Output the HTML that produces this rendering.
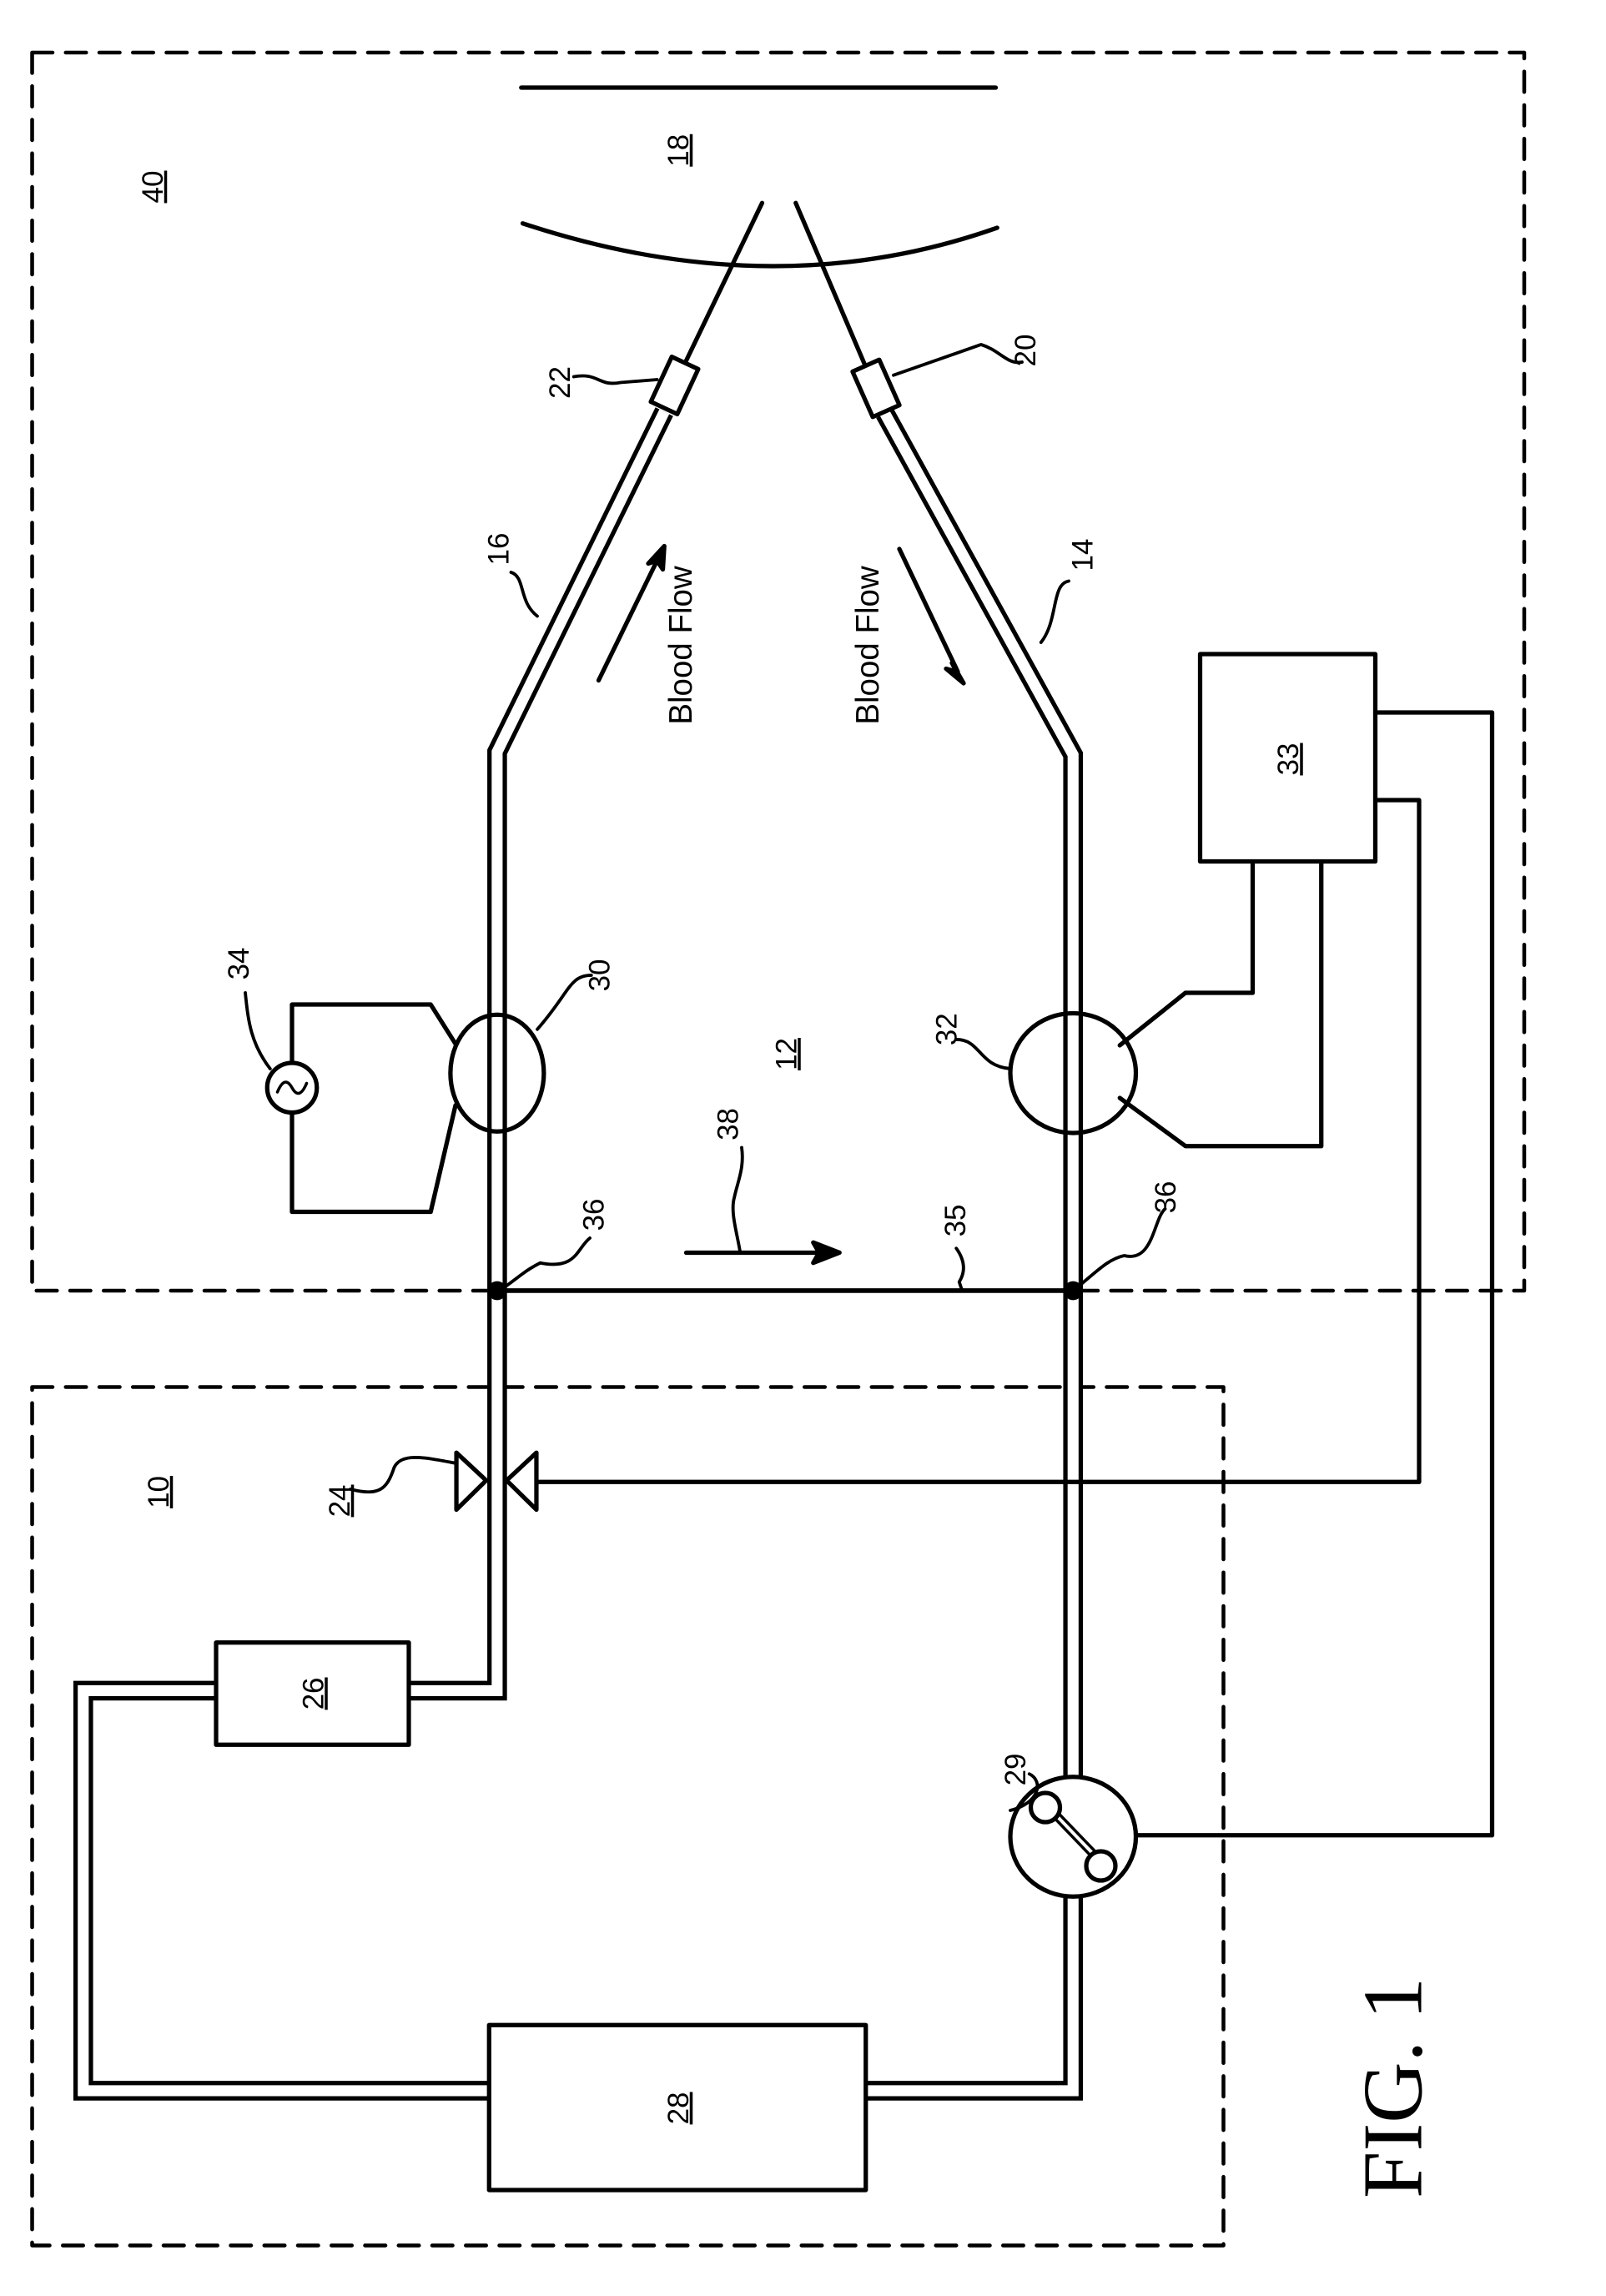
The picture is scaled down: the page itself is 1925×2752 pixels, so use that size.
<!DOCTYPE html>
<html><head><meta charset="utf-8"><style>
html,body{margin:0;padding:0;background:#fff;}
svg{display:block;}
text{font-family:"Liberation Sans","DejaVu Sans",sans-serif;fill:#000;}
</style></head><body>
<svg width="1925" height="2752" viewBox="0 0 1100 1572.6" xmlns="http://www.w3.org/2000/svg">
<g fill="none" stroke="#000" stroke-width="3" stroke-linecap="round" stroke-linejoin="round">
<rect x="22" y="36" width="1022" height="848" stroke-dasharray="14 9" stroke-width="2.6"/>
<rect x="22" y="950" width="816" height="588" stroke-dasharray="14 9" stroke-width="2.6"/>
<line x1="357" y1="60" x2="682" y2="60"/>
<path d="M358,153 Q530,210 683,156"/>
<line x1="470" y1="247" x2="522" y2="139"/>
<line x1="592" y1="249" x2="545" y2="139"/>
<g stroke-linecap="butt" stroke-linejoin="miter">
<path d="M455,282 L340.5,515 L340.5,1158 L280,1158" stroke-width="13.5"/>
<path d="M148,1158 L57,1158 L57,1432 L335,1432" stroke-width="13.5"/>
<path d="M593,1432 L735,1432 L735,1300" stroke-width="13.5"/>
<path d="M735,1218 L735,517 L606,283" stroke-width="13.5"/>
<path d="M455,282 L340.5,515 L340.5,1158 L281,1158" stroke="#fff" stroke-width="7.5"/>
<path d="M147,1158 L57,1158 L57,1432 L336,1432" stroke="#fff" stroke-width="7.5"/>
<path d="M592,1432 L735,1432 L735,1299" stroke="#fff" stroke-width="7.5"/>
<path d="M735,1219 L735,517 L606,283" stroke="#fff" stroke-width="7.5"/>
</g>
<rect x="-10" y="-17" width="20" height="34" transform="translate(462,264) rotate(25)" fill="#fff"/>
<rect x="-10" y="-17" width="20" height="34" transform="translate(600,266) rotate(-24)" fill="#fff"/>
<rect x="148" y="1125" width="132" height="70" fill="#fff"/>
<rect x="335" y="1387" width="258" height="113" fill="#fff"/>
<rect x="822" y="448" width="120" height="142" fill="#fff"/>
<polyline points="942,488 1022,488 1022,1257 778,1257"/>
<polyline points="942,548 972,548 972,1015 368,1015"/>
<polyline points="858,590 858,680 812,680 767,716"/>
<polyline points="905,590 905,785 812,785 767,752"/>
<ellipse cx="340.5" cy="735" rx="32" ry="40" fill="none"/>
<ellipse cx="735" cy="735" rx="43" ry="41" fill="none"/>
<polyline points="312,715 295,688 200,688 200,728"/>
<polyline points="312,757 295,830 200,830 200,762"/>
<circle cx="200" cy="745" r="17" fill="#fff"/>
<path d="M190,748 Q195,736 200,745 Q205,754 210,742" stroke-width="2"/>
<ellipse cx="735" cy="1258" rx="43" ry="41" fill="#fff"/>
<circle cx="716" cy="1238" r="10"/>
<circle cx="754" cy="1278" r="10"/>
<line x1="723" y1="1246" x2="747" y2="1271" stroke-width="2"/>
<line x1="726" y1="1243" x2="750" y2="1268" stroke-width="2"/>
<polygon points="312.6,995 312.6,1034 333,1014" fill="#fff"/>
<polygon points="367.4,995 367.4,1034 347,1014" fill="#fff"/>
<line x1="340.5" y1="884" x2="735" y2="884" stroke-width="3.2"/>
<circle cx="340.5" cy="884" r="5" fill="#000"/>
<circle cx="735" cy="884" r="5" fill="#000"/>
<line x1="470" y1="858" x2="565" y2="858" stroke-width="3"/>
<polygon points="575,858 557,851 561,858 557,865" fill="#000"/>
<line x1="410" y1="466" x2="451" y2="382" stroke-width="3"/>
<polygon points="455,374 444,386 450,384 454,390" fill="#000"/>
<line x1="616" y1="376" x2="656" y2="460" stroke-width="3"/>
<polygon points="660,468 652,454 655,460 648,458" fill="#000"/>
<g stroke-width="2.2">
<path d="M393,258 C410,255 410,265 425,262 L450,260"/>
<path d="M700,248 C690,250 685,240 672,236 L612,257"/>
<path d="M350,392 C360,395 355,412 368,422"/>
<path d="M732,398 C720,400 725,425 713,440"/>
<path d="M168,680 C170,700 172,715 185,732"/>
<path d="M405,668 C390,668 390,680 368,705"/>
<path d="M655,712 C672,712 670,730 692,732"/>
<path d="M404,848 C395,855 395,870 370,865 C360,870 355,875 345,882"/>
<path d="M798,828 C790,835 790,865 770,860 C760,862 752,870 740,880"/>
<path d="M508,786 C510,800 505,810 503,820 C500,830 505,845 507,858"/>
<path d="M655,855 C660,862 662,870 657,878 L659,884"/>
<path d="M240,1020 C260,1025 265,1020 270,1005 C275,995 290,998 311,1002"/>
<path d="M705,1215 C715,1220 712,1235 692,1240"/>
</g>
</g>
<g font-size="20" text-anchor="middle">
<text transform="translate(106,128) rotate(-90)" dominant-baseline="middle" text-decoration="underline">40</text>
<text transform="translate(466,103) rotate(-90)" dominant-baseline="middle" text-decoration="underline">18</text>
<text transform="translate(385,262) rotate(-90)" dominant-baseline="middle">22</text>
<text transform="translate(704,240) rotate(-90)" dominant-baseline="middle">20</text>
<text transform="translate(343,376) rotate(-90)" dominant-baseline="middle">16</text>
<text transform="translate(743,380) rotate(-90)" dominant-baseline="middle">14</text>
<text transform="translate(884,520) rotate(-90)" dominant-baseline="middle" text-decoration="underline">33</text>
<text transform="translate(165,660) rotate(-90)" dominant-baseline="middle">34</text>
<text transform="translate(412,668) rotate(-90)" dominant-baseline="middle">30</text>
<text transform="translate(650,705) rotate(-90)" dominant-baseline="middle">32</text>
<text transform="translate(540,722) rotate(-90)" dominant-baseline="middle" text-decoration="underline">12</text>
<text transform="translate(500,770) rotate(-90)" dominant-baseline="middle">38</text>
<text transform="translate(408,832) rotate(-90)" dominant-baseline="middle">36</text>
<text transform="translate(800,820) rotate(-90)" dominant-baseline="middle">36</text>
<text transform="translate(656,836) rotate(-90)" dominant-baseline="middle">35</text>
<text transform="translate(234,1028) rotate(-90)" dominant-baseline="middle" text-decoration="underline">24</text>
<text transform="translate(110,1022) rotate(-90)" dominant-baseline="middle" text-decoration="underline">10</text>
<text transform="translate(216,1160) rotate(-90)" dominant-baseline="middle" text-decoration="underline">26</text>
<text transform="translate(466,1444) rotate(-90)" dominant-baseline="middle" text-decoration="underline">28</text>
<text transform="translate(697,1212) rotate(-90)" dominant-baseline="middle">29</text>
<text transform="translate(468,442) rotate(-90)" dominant-baseline="middle" font-size="22">Blood Flow</text>
<text transform="translate(596,442) rotate(-90)" dominant-baseline="middle" font-size="22">Blood Flow</text>
<text transform="translate(960,1430) rotate(-90)" dominant-baseline="middle" font-size="58" style="font-family:'Liberation Serif',serif">FIG. 1</text>
</g>
</svg>
</body></html>
